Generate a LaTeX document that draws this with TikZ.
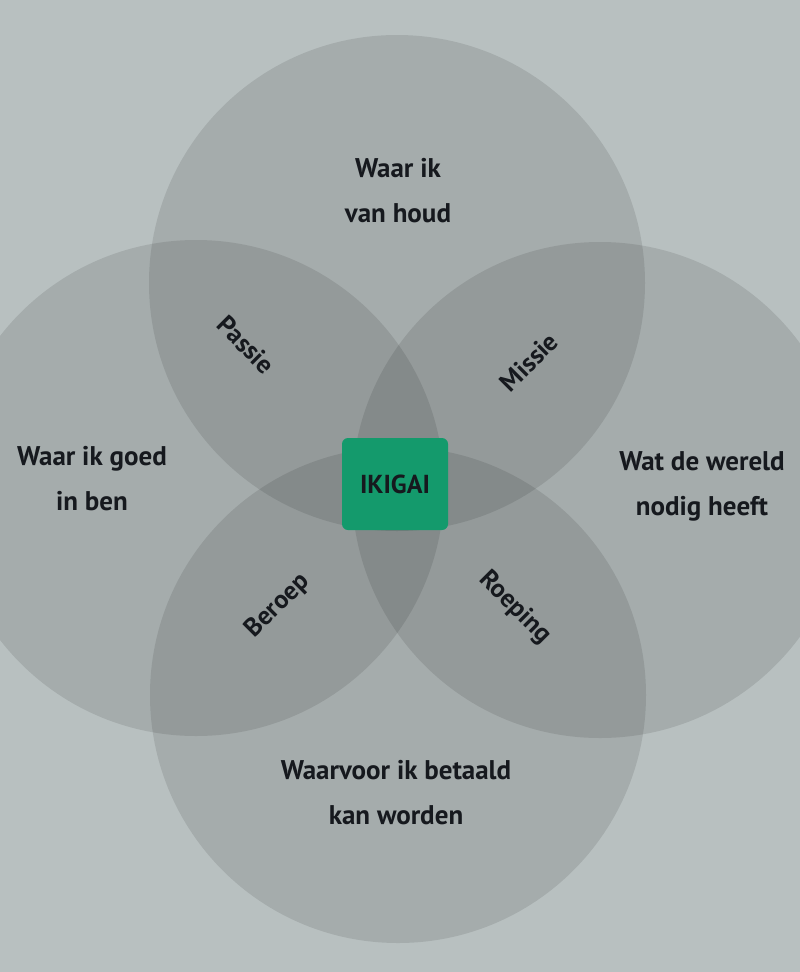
\documentclass[tikz,border=0pt]{standalone}
\usepackage{fontspec}
\newfontfamily\lblfont{PT Sans}
\definecolor{bg}{RGB}{184,192,192}
\definecolor{ikgreen}{RGB}{20,154,108}
\definecolor{ink}{RGB}{22,25,30}
\begin{document}
\begin{tikzpicture}[x=1pt,y=-1pt,
  circ/.style={fill=black,fill opacity=0.1},
  lbl/.style={font=\lblfont\bfseries\fontsize{27}{45}\selectfont, text=ink, align=center, inner sep=0pt},
  diag/.style={font=\lblfont\bfseries\fontsize{26}{30}\selectfont, text=ink, inner sep=0pt},
  ikbox/.style={fill=ikgreen, rounded corners=6pt, minimum width=106pt, minimum height=92pt, inner sep=0pt,
    font=\lblfont\bfseries\fontsize{26}{30}\selectfont, text=ink}]
\useasboundingbox (0,0) rectangle (800,972);
\clip (0,0) rectangle (800,972);
\fill[bg] (0,0) rectangle (800,972);
% four circles
\fill[circ] (397,283) circle[radius=248];
\fill[circ] (398,695) circle[radius=248];
\fill[circ] (196,488) circle[radius=248];
\fill[circ] (600,490) circle[radius=248];
% main labels
\node[lbl] (love) at (398,191) {Waar ik\\van houd};
\node[lbl] (good) at (92,479) {Waar ik goed\\in ben};
\node[lbl] (world) at (702,486) {Wat de wereld\\nodig heeft};
\node[lbl] (paid) at (396,793) {Waarvoor ik betaald\\kan worden};
% overlap labels
\node[diag, rotate=-45] (passie) at (246,345) {Passie};
\node[diag, rotate=45] (missie) at (529,362) {Missie};
\node[diag, rotate=45] (beroep) at (278,606) {Beroep};
\node[diag, rotate=-45] (roeping) at (515,608) {Roeping};
% centre
\node[ikbox] (ikigai) at (395,484) {IKIGAI};
\end{tikzpicture}
\end{document}
